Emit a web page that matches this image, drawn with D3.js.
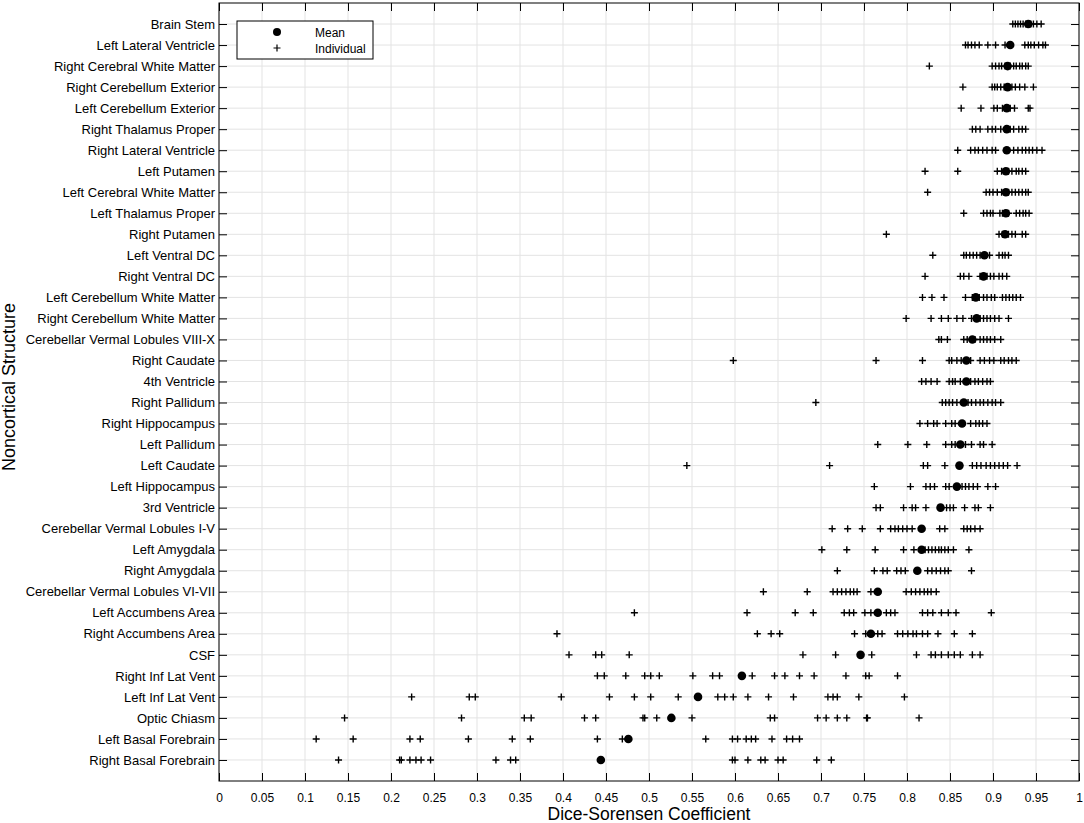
<!DOCTYPE html>
<html>
<head>
<meta charset="utf-8">
<script src="https://cdn.jsdelivr.net/npm/d3@7"></script>
<style>
  body { margin: 0; background: #fff; }
  text { font-family: "Liberation Sans", Arial, sans-serif; }
</style>
</head>
<body>
<div id="chart"></div>
<script>
// Structure names, top to bottom
var structures = [
  "Brain Stem", "Left Lateral Ventricle", "Right Cerebral White Matter", "Right Cerebellum Exterior",
  "Left Cerebellum Exterior", "Right Thalamus Proper", "Right Lateral Ventricle", "Left Putamen",
  "Left Cerebral White Matter", "Left Thalamus Proper", "Right Putamen", "Left Ventral DC",
  "Right Ventral DC", "Left Cerebellum White Matter", "Right Cerebellum White Matter",
  "Cerebellar Vermal Lobules VIII-X", "Right Caudate", "4th Ventricle", "Right Pallidum",
  "Right Hippocampus", "Left Pallidum", "Left Caudate", "Left Hippocampus", "3rd Ventricle",
  "Cerebellar Vermal Lobules I-V", "Left Amygdala", "Right Amygdala", "Cerebellar Vermal Lobules VI-VII",
  "Left Accumbens Area", "Right Accumbens Area", "CSF", "Right Inf Lat Vent", "Left Inf Lat Vent",
  "Optic Chiasm", "Left Basal Forebrain", "Right Basal Forebrain"
];

// Mean Dice per structure
var meanDice = [
  0.941, 0.920, 0.917, 0.917, 0.916, 0.916, 0.916, 0.915, 0.915, 0.915, 0.914, 0.890,
  0.889, 0.880, 0.881, 0.876, 0.869, 0.869, 0.866, 0.864, 0.862, 0.861, 0.858, 0.839,
  0.817, 0.817, 0.812, 0.766, 0.766, 0.758, 0.746, 0.608, 0.557, 0.526, 0.476, 0.444
];

// Individual Dice values per structure
var individualDice = [
  [0.923, 0.926, 0.929, 0.932, 0.935, 0.938, 0.941, 0.944, 0.947, 0.951, 0.956],
  [0.868, 0.871, 0.875, 0.879, 0.884, 0.894, 0.903, 0.914, 0.937, 0.941, 0.944, 0.948, 0.953, 0.958, 0.961],
  [0.826, 0.899, 0.903, 0.907, 0.910, 0.914, 0.920, 0.924, 0.927, 0.931, 0.934, 0.938, 0.941],
  [0.865, 0.899, 0.902, 0.905, 0.909, 0.913, 0.922, 0.926, 0.931, 0.937, 0.947],
  [0.863, 0.886, 0.901, 0.905, 0.911, 0.916, 0.920, 0.925, 0.941, 0.943],
  [0.876, 0.880, 0.885, 0.894, 0.899, 0.903, 0.909, 0.920, 0.924, 0.930, 0.934, 0.938],
  [0.859, 0.874, 0.879, 0.883, 0.888, 0.893, 0.899, 0.903, 0.924, 0.929, 0.934, 0.938, 0.942, 0.946, 0.951, 0.957],
  [0.821, 0.859, 0.905, 0.910, 0.918, 0.922, 0.927, 0.930, 0.934, 0.938],
  [0.824, 0.892, 0.896, 0.900, 0.905, 0.910, 0.918, 0.922, 0.926, 0.930, 0.934, 0.938, 0.941],
  [0.866, 0.889, 0.893, 0.897, 0.900, 0.908, 0.911, 0.918, 0.927, 0.931, 0.935, 0.938, 0.942],
  [0.776, 0.907, 0.911, 0.918, 0.922, 0.926, 0.934, 0.938],
  [0.830, 0.866, 0.869, 0.873, 0.877, 0.881, 0.885, 0.896, 0.907, 0.911, 0.914, 0.918],
  [0.821, 0.862, 0.866, 0.872, 0.885, 0.893, 0.897, 0.901, 0.907, 0.911, 0.916],
  [0.818, 0.829, 0.843, 0.868, 0.876, 0.879, 0.884, 0.889, 0.893, 0.898, 0.902, 0.911, 0.915, 0.919, 0.923, 0.927, 0.932],
  [0.799, 0.828, 0.840, 0.848, 0.858, 0.865, 0.875, 0.885, 0.889, 0.893, 0.897, 0.902, 0.907, 0.918],
  [0.837, 0.840, 0.847, 0.866, 0.870, 0.879, 0.885, 0.889, 0.893, 0.897, 0.902, 0.909],
  [0.598, 0.764, 0.818, 0.849, 0.852, 0.858, 0.863, 0.874, 0.885, 0.890, 0.896, 0.901, 0.909, 0.913, 0.918, 0.922, 0.927],
  [0.817, 0.822, 0.828, 0.835, 0.849, 0.853, 0.856, 0.862, 0.874, 0.879, 0.883, 0.888, 0.893, 0.897],
  [0.694, 0.841, 0.845, 0.849, 0.853, 0.858, 0.871, 0.875, 0.880, 0.885, 0.889, 0.894, 0.899, 0.903, 0.909],
  [0.815, 0.824, 0.831, 0.835, 0.845, 0.852, 0.856, 0.874, 0.880, 0.884, 0.888, 0.893],
  [0.766, 0.801, 0.823, 0.845, 0.852, 0.856, 0.868, 0.875, 0.885, 0.889, 0.899],
  [0.544, 0.710, 0.819, 0.824, 0.844, 0.876, 0.881, 0.886, 0.892, 0.897, 0.902, 0.907, 0.912, 0.917, 0.928],
  [0.762, 0.804, 0.822, 0.827, 0.832, 0.845, 0.849, 0.864, 0.868, 0.872, 0.877, 0.882, 0.894, 0.903],
  [0.764, 0.769, 0.796, 0.806, 0.810, 0.822, 0.846, 0.850, 0.854, 0.867, 0.879, 0.883, 0.897],
  [0.713, 0.731, 0.748, 0.769, 0.781, 0.786, 0.790, 0.795, 0.800, 0.806, 0.838, 0.844, 0.866, 0.870, 0.874, 0.879, 0.885],
  [0.701, 0.730, 0.763, 0.796, 0.808, 0.821, 0.825, 0.829, 0.833, 0.837, 0.840, 0.844, 0.848, 0.854, 0.872],
  [0.719, 0.762, 0.772, 0.777, 0.788, 0.793, 0.798, 0.824, 0.829, 0.834, 0.839, 0.844, 0.848, 0.875],
  [0.633, 0.684, 0.714, 0.719, 0.724, 0.729, 0.734, 0.738, 0.742, 0.758, 0.799, 0.805, 0.810, 0.815, 0.820, 0.824, 0.828, 0.834],
  [0.483, 0.614, 0.670, 0.691, 0.727, 0.733, 0.738, 0.751, 0.758, 0.776, 0.781, 0.786, 0.818, 0.824, 0.830, 0.840, 0.848, 0.857, 0.898],
  [0.393, 0.626, 0.642, 0.652, 0.739, 0.752, 0.766, 0.771, 0.789, 0.795, 0.801, 0.807, 0.811, 0.818, 0.824, 0.836, 0.855, 0.876],
  [0.407, 0.438, 0.445, 0.477, 0.679, 0.717, 0.759, 0.811, 0.828, 0.833, 0.840, 0.848, 0.855, 0.862, 0.876, 0.885],
  [0.440, 0.448, 0.473, 0.495, 0.502, 0.512, 0.551, 0.574, 0.582, 0.620, 0.646, 0.658, 0.675, 0.692, 0.729, 0.752, 0.756, 0.789],
  [0.224, 0.291, 0.298, 0.398, 0.454, 0.483, 0.502, 0.534, 0.580, 0.588, 0.598, 0.615, 0.639, 0.668, 0.708, 0.714, 0.719, 0.744, 0.797],
  [0.146, 0.282, 0.355, 0.363, 0.425, 0.438, 0.493, 0.495, 0.509, 0.550, 0.641, 0.646, 0.696, 0.706, 0.719, 0.730, 0.753, 0.754, 0.814],
  [0.113, 0.156, 0.222, 0.234, 0.290, 0.341, 0.362, 0.440, 0.469, 0.566, 0.597, 0.603, 0.613, 0.619, 0.624, 0.643, 0.660, 0.667, 0.675],
  [0.139, 0.210, 0.212, 0.222, 0.229, 0.235, 0.246, 0.322, 0.339, 0.345, 0.597, 0.600, 0.615, 0.630, 0.635, 0.650, 0.656, 0.695, 0.712]
];

var xTicks = d3.range(0, 21).map(function (i) { return i * 0.05; });

var width = 1084, height = 823;
var margin = { top: 3, right: 5, bottom: 42, left: 219 };
var plotW = width - margin.left - margin.right,
    plotH = height - margin.top - margin.bottom;

var svg = d3.select("#chart").append("svg")
  .attr("width", width)
  .attr("height", height);

var g = svg.append("g")
  .attr("transform", "translate(" + margin.left + "," + margin.top + ")");

var x = d3.scaleLinear().domain([0, 1]).range([0, plotW]);
var y = d3.scaleLinear().domain([0, structures.length + 1]).range([0, plotH]);

// grid
g.append("g").selectAll("line.vg")
  .data(xTicks)
  .join("line")
  .attr("x1", d => x(d)).attr("x2", d => x(d))
  .attr("y1", 0).attr("y2", plotH)
  .attr("stroke", "#e3e3e3").attr("stroke-width", 1);

g.append("g").selectAll("line.hg")
  .data(structures)
  .join("line")
  .attr("x1", 0).attr("x2", plotW)
  .attr("y1", (d, i) => y(i + 1)).attr("y2", (d, i) => y(i + 1))
  .attr("stroke", "#e3e3e3").attr("stroke-width", 1);

// axes with inward ticks
var tickFmt = d => (d === 0 || d === 1) ? String(d) : d3.format(".2~f")(d);

var xAxisB = d3.axisBottom(x).tickValues(xTicks).tickSizeInner(-8).tickSizeOuter(0)
  .tickPadding(12).tickFormat(tickFmt);
var xAxisT = d3.axisTop(x).tickValues(xTicks).tickSizeInner(-8).tickSizeOuter(0).tickFormat("");
var yAxisL = d3.axisLeft(y).tickValues(d3.range(1, structures.length + 1))
  .tickSizeInner(-8).tickSizeOuter(0).tickPadding(4)
  .tickFormat(d => structures[d - 1]);
var yAxisR = d3.axisRight(y).tickValues(d3.range(1, structures.length + 1))
  .tickSizeInner(-8).tickSizeOuter(0).tickFormat("");

function styleAxis(sel, size) {
  sel.select(".domain").remove();
  sel.selectAll(".tick line").attr("stroke", "#000");
  sel.selectAll(".tick text").attr("fill", "#000")
    .style("font-family", "'Liberation Sans', Arial, sans-serif")
    .style("font-size", (size || 12) + "px");
}

g.append("g").attr("transform", "translate(0," + plotH + ")").call(xAxisB).call(styleAxis, 12);
g.append("g").call(xAxisT).call(styleAxis);
g.append("g").call(yAxisL).call(styleAxis, 13);
g.append("g").attr("transform", "translate(" + plotW + ",0)").call(yAxisR).call(styleAxis);

// frame
g.append("rect")
  .attr("x", 0).attr("y", 0).attr("width", plotW).attr("height", plotH)
  .attr("fill", "none").attr("stroke", "#000").attr("stroke-width", 1);

// individual markers (plus signs)
var pts = [];
individualDice.forEach(function (vals, i) {
  vals.forEach(function (v) { pts.push({ row: i, v: v }); });
});

g.append("g").selectAll("path.ind")
  .data(pts)
  .join("path")
  .attr("d", "M-3.5,0H3.5M0,-3.5V3.5")
  .attr("transform", d => "translate(" + x(d.v) + "," + y(d.row + 1) + ")")
  .attr("stroke", "#000").attr("stroke-width", 1.4).attr("fill", "none");

// means
g.append("g").selectAll("circle.mean")
  .data(meanDice)
  .join("circle")
  .attr("cx", d => x(d))
  .attr("cy", (d, i) => y(i + 1))
  .attr("r", 4.3)
  .attr("fill", "#000");

// legend
var leg = g.append("g").attr("transform", "translate(18,18)");
leg.append("rect").attr("width", 136).attr("height", 38)
  .attr("fill", "#fff").attr("stroke", "#000").attr("stroke-width", 1);
leg.append("circle").attr("cx", 40).attr("cy", 11).attr("r", 4).attr("fill", "#000");
leg.append("path").attr("d", "M36.5,27H43.5M40,23.5V30.5")
  .attr("stroke", "#000").attr("stroke-width", 1.2);
leg.append("text").attr("x", 78).attr("y", 15.5).text("Mean")
  .style("font-size", "12px");
leg.append("text").attr("x", 78).attr("y", 31.5).text("Individual")
  .style("font-size", "12px");

// axis titles
svg.append("text")
  .attr("x", margin.left + plotW / 2)
  .attr("y", 820)
  .attr("text-anchor", "middle")
  .style("font-size", "17.5px")
  .text("Dice-Sorensen Coefficient");

svg.append("text")
  .attr("transform", "translate(15," + 387 + ") rotate(-90)")
  .attr("text-anchor", "middle")
  .style("font-size", "18px")
  .text("Noncortical Structure");
</script>
</body>
</html>
